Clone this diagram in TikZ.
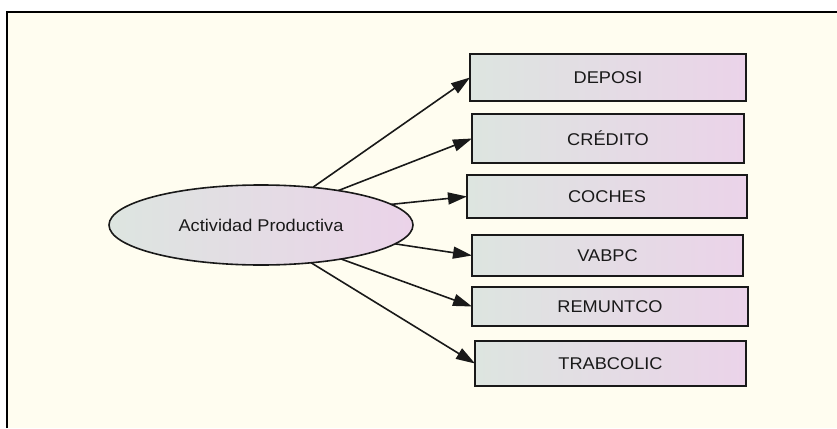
\documentclass[tikz,border=0pt]{standalone}
\usepackage{fontspec}
\setmainfont{Liberation Sans}
\usetikzlibrary{shapes.geometric,arrows.meta}
\definecolor{paper}{RGB}{255,253,240}
\definecolor{shadeL}{RGB}{221,229,224}
\definecolor{shadeR}{RGB}{235,211,233}
\definecolor{ink}{RGB}{25,25,25}
\newcommand{\lbl}[1]{\scalebox{1.07}[1]{#1}}
\tikzset{
  varbox/.style={rectangle, draw=ink, line width=1.6pt, left color=shadeL, right color=shadeR,
    inner sep=0pt, outer sep=0pt, text=ink, font=\fontsize{17}{19}\selectfont},
  factor/.style={ellipse, draw=ink, line width=1.6pt, left color=shadeL, right color=shadeR,
    inner sep=0pt, outer sep=0pt, minimum width=304pt, minimum height=80pt,
    text=ink, font=\fontsize{17}{19}\selectfont},
  link/.style={draw=ink, line width=1.6pt, -{Triangle[length=19pt,width=12pt]}},
  frame/.style={draw=black, line width=2pt}
}
\begin{document}
\begin{tikzpicture}[x=1pt,y=-1pt]
  % page and cream panel
  \fill[white] (0,0) rectangle (837,428);
  \fill[paper] (7,12) rectangle (837,428);
  \useasboundingbox (0,0) rectangle (837,428);
  \draw[frame] (7,428) -- (7,12) -- (837,12);

  % latent factor
  \node[factor] (ap) at (261,225) {\lbl{Actividad Productiva}};

  % indicators
  \node[varbox, minimum width=276pt, minimum height=47pt] (dep) at (608,77.5) {\lbl{DEPOSI}};
  \node[varbox, minimum width=272pt, minimum height=49pt] (cre) at (608,138.5) {\lbl{CRÉDITO}};
  \node[varbox, minimum width=280pt, minimum height=43pt] (coc) at (607,196.5) {\lbl{COCHES}};
  \node[varbox, minimum width=271pt, minimum height=41pt] (vab) at (607.5,255.5) {\lbl{VABPC}};
  \node[varbox, minimum width=276pt, minimum height=39pt] (rem) at (610,306.5) {\lbl{REMUNTCO}};
  \node[varbox, minimum width=271pt, minimum height=45pt] (tra) at (610.5,363.5) {\lbl{TRABCOLIC}};

  % loadings
  \draw[link] (ap.36) -- (dep.west);
  \draw[link] (ap.24.5) -- (cre.west);
  \draw[link] (ap.9) -- (coc.west);
  \draw[link] (ap.-8.6) -- (vab.west);
  \draw[link] (ap.-23.6) -- (rem.west);
  \draw[link] (ap.-37) -- (tra.west);
\end{tikzpicture}
\end{document}
